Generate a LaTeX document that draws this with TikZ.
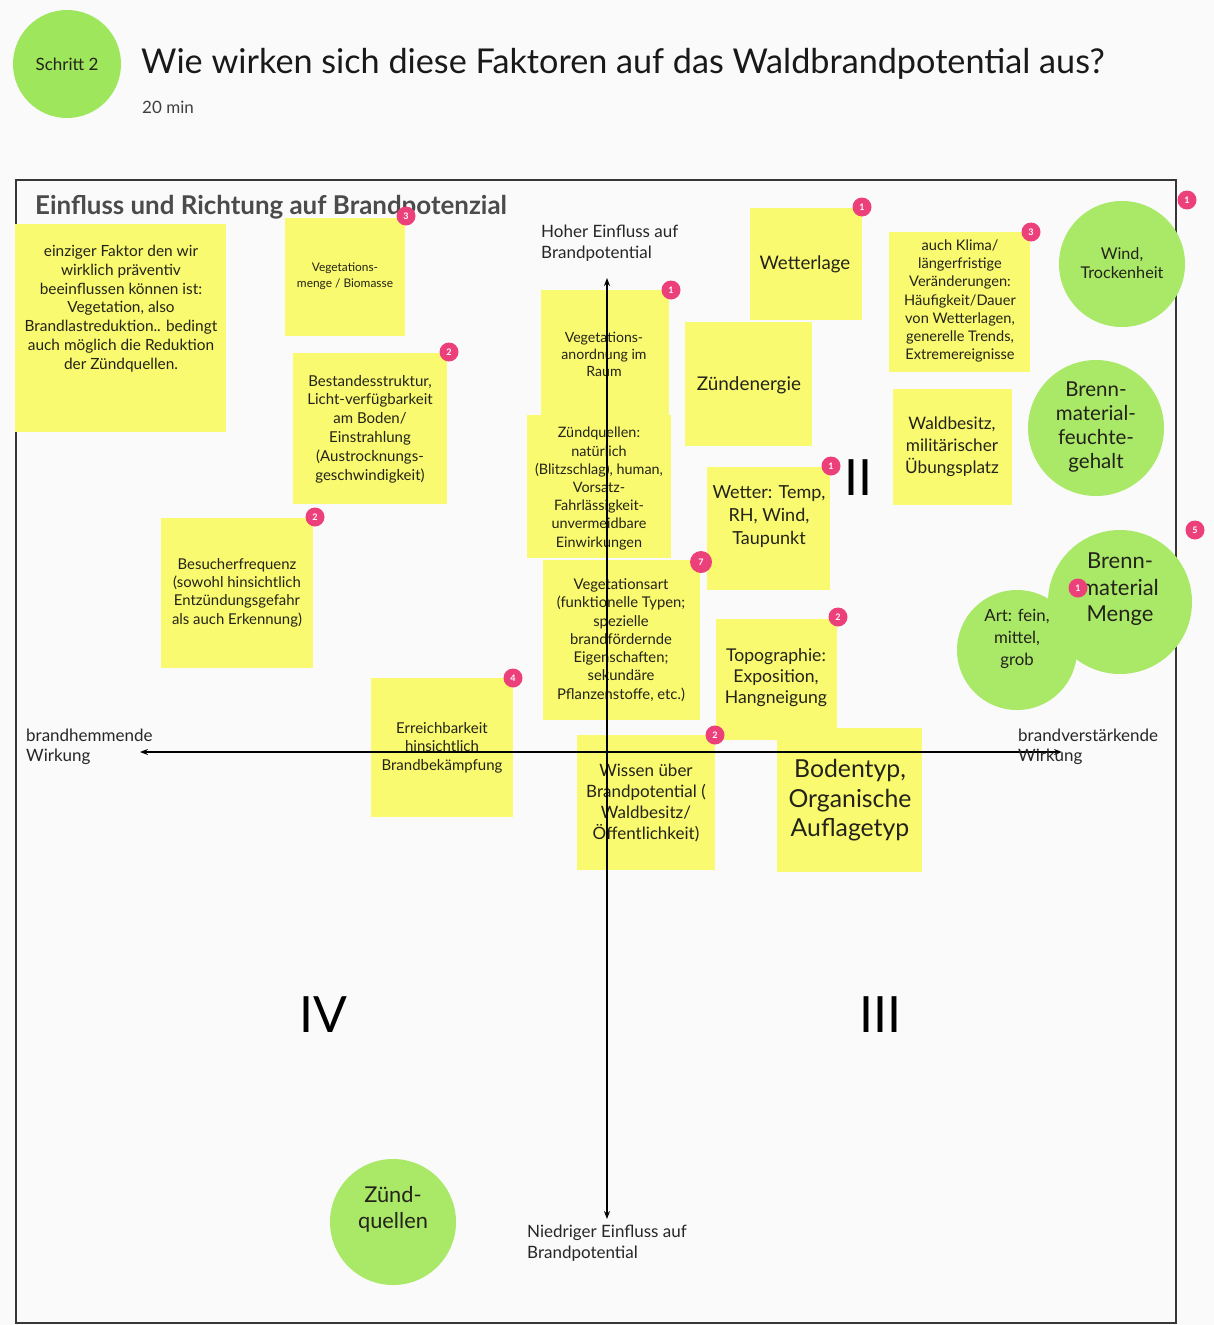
\documentclass[tikz,border=0pt]{standalone}
\usepackage{fontspec}
\setmainfont{Lato}
\usetikzlibrary{arrows.meta}
\definecolor{bg}{RGB}{250,250,250}
\definecolor{sticky}{RGB}{250,250,112}
\definecolor{leaf}{RGB}{170,232,104}
\definecolor{leafhead}{RGB}{158,230,92}
\definecolor{badgepink}{RGB}{236,64,122}
\definecolor{ink}{RGB}{35,35,25}
\definecolor{framegray}{RGB}{55,55,55}
\definecolor{heading}{RGB}{75,75,75}
\newcommand\fs[2]{\fontsize{#1}{#2}\selectfont}

\begin{document}
\begin{tikzpicture}[x=1pt,y=-1pt,
  note/.style={fill=sticky, inner sep=0pt, outer sep=0pt, anchor=north west},
  ntext/.style={text=ink, align=center, inner sep=0pt},
  blob/.style={circle, fill=leaf, inner sep=0pt, outer sep=0pt},
  badge/.style={circle, fill=badgepink, text=white, inner sep=0pt, minimum size=19pt, font=\fs{9}{9}\bfseries},
  axis/.style={line width=1.4pt, draw=black, {Stealth[length=8pt,width=6pt]}-{Stealth[length=8pt,width=6pt]}},
  axlabel/.style={anchor=west, align=left, inner sep=0pt, text=black!85, font=\fs{17}{21}},
  quad/.style={inner sep=0pt, font=\fs{50}{50}, text=black}
]
% page
\useasboundingbox (0,0) rectangle (1214,1325);
\fill[bg] (0,0) rectangle (1214,1325);

% header
\node[circle, fill=leafhead, minimum size=108pt, inner sep=0pt, text=ink, font=\fs{17}{17}] (step) at (67,64) {Schritt 2};
\node[anchor=west, inner sep=0pt, font=\fs{34.2}{34.2}, text=black!90] (title) at (141,64) {Wie wirken sich diese Faktoren auf das Waldbrandpotential aus?};
\node[anchor=west, inner sep=0pt, font=\fs{17}{17}, text=black!75] (dur) at (142,107) {20 min};

% board
\node[draw=framegray, line width=2pt, anchor=north west, minimum width=1160pt, minimum height=1143pt, inner sep=0pt] (board) at (15,179) {};
\node[anchor=west, inner sep=0pt, font=\fs{25.9}{25.9}\bfseries, text=heading] (boardtitle) at (35,207) {Einfluss und Richtung auf Brandpotenzial};

% sticky notes
\node[note, minimum width=211pt, minimum height=208pt] (n1) at (15,224) {};
\node[ntext, font=\fs{15.4}{18.8}] (n1t) at (121,308.5) {einziger Faktor den wir\\wirklich präventiv\\beeinflussen können ist:\\Vegetation, also\\Brandlastreduktion.. bedingt\\auch möglich die Reduktion\\der Zündquellen.};

\node[note, minimum width=120pt, minimum height=118pt] (n2) at (285,218) {};
\node[ntext, font=\fs{11.9}{16}] (n2t) at (345,276) {Vegetations-\\menge / Biomasse};

\node[note, minimum width=154pt, minimum height=151pt] (n3) at (293,353) {};
\node[ntext, font=\fs{15}{18.8}] (n3t) at (370,429) {Bestandesstruktur,\\Licht-verfügbarkeit\\am Boden/\\Einstrahlung\\(Austrocknungs-\\geschwindigkeit)};

\node[note, minimum width=152pt, minimum height=150pt] (n4) at (161,518) {};
\node[ntext, font=\fs{14.9}{18.3}] (n4t) at (237,592.5) {Besucherfrequenz\\(sowohl hinsichtlich\\Entzündungsgefahr\\als auch Erkennung)};

\node[note, minimum width=128pt, minimum height=130pt] (n5) at (541,290) {};
\node[ntext, font=\fs{14.1}{17}] (n5t) at (604,354) {Vegetations-\\anordnung im\\Raum};

\node[note, minimum width=144pt, minimum height=143pt] (n6) at (527,415) {};
\node[ntext, font=\fs{14.4}{18.2}] (n6t) at (599,488.5) {Zündquellen:\\natürlich\\(Blitzschlag), human,\\Vorsatz-\\Fahrlässigkeit-\\unvermeidbare\\Einwirkungen};

\node[note, minimum width=157pt, minimum height=160pt] (n7) at (543,560) {};
\node[ntext, font=\fs{14.8}{18.3}] (n7t) at (621,640) {Vegetationsart\\(funktionelle Typen;\\spezielle\\brandfördernde\\Eigenschaften;\\sekundäre\\Pflanzenstoffe, etc.)};

\node[note, minimum width=112pt, minimum height=112pt] (n8) at (750,208) {};
\node[ntext, font=\fs{18.7}{18.7}] (n8t) at (805,264) {Wetterlage};

\node[note, minimum width=127pt, minimum height=124pt] (n9) at (685,322) {};
\node[ntext, font=\fs{18.9}{18.9}] (n9t) at (749,385) {Zündenergie};

\node[note, minimum width=141pt, minimum height=140pt] (n10) at (889,232) {};
\node[ntext, font=\fs{14.6}{18.3}] (n10t) at (960,301) {auch Klima/\\längerfristige\\Veränderungen:\\Häufigkeit/Dauer\\von Wetterlagen,\\generelle Trends,\\Extremereignisse};

\node[note, minimum width=119pt, minimum height=116pt] (n11) at (893,389) {};
\node[ntext, font=\fs{17.2}{22}] (n11t) at (952,447) {Waldbesitz,\\militärischer\\Übungsplatz};

\node[note, minimum width=123pt, minimum height=123pt] (n12) at (707,467) {};
\node[ntext, font=\fs{18}{23}] (n12t) at (769,517) {Wetter: Temp,\\RH, Wind,\\Taupunkt};

\node[note, minimum width=121pt, minimum height=121pt] (n13) at (716,619) {};
\node[ntext, font=\fs{17.6}{21}] (n13t) at (776,678) {Topographie:\\Exposition,\\Hangneigung};

\node[note, minimum width=142pt, minimum height=139pt] (n14) at (371,678) {};
\node[ntext, font=\fs{15}{18.5}] (n14t) at (442,747.5) {Erreichbarkeit\\hinsichtlich\\Brandbekämpfung};

\node[note, minimum width=138pt, minimum height=135pt] (n15) at (577,735) {};
\node[ntext, font=\fs{17}{21}] (n15t) at (646,802.5) {Wissen über\\Brandpotential (\\Waldbesitz/\\Öffentlichkeit)};

\node[note, minimum width=145pt, minimum height=144pt] (n16) at (777,728) {};
\node[ntext, font=\fs{24.8}{29.5}] (n16t) at (850,800.5) {Bodentyp,\\Organische\\Auflagetyp};

% axes
\coordinate (ytop) at (607,278);
\coordinate (ybot) at (607,1219);
\coordinate (xleft) at (140,752);
\coordinate (xright) at (1062,752);
\draw[axis] (ybot) -- (ytop);
\draw[axis] (xleft) -- (xright);

\node[axlabel] (hi) at (541,243.5) {Hoher Einfluss auf\\Brandpotential};
\node[axlabel] (lo) at (527,1243.5) {Niedriger Einfluss auf\\Brandpotential};
\node[axlabel, font=\fs{17}{20}] (neg) at (26,747) {brandhemmende\\Wirkung};
\node[axlabel, font=\fs{17}{20}] (pos) at (1018,747) {brandverstärkende\\Wirkung};

% quadrant numbers
\node[quad] (q2) at (858,478) {II};
\node[quad] (q3) at (880,1015) {III};
\node[quad] (q4) at (323,1015) {IV};

% green circles
\node[blob, minimum size=126pt] (wind) at (1122,264) {};
\node[ntext, font=\fs{16.2}{19}] (windt) at (1122,263.5) {Wind,\\Trockenheit};
\node[blob, minimum size=136pt] (moist) at (1096,428) {};
\node[ntext, font=\fs{20.5}{24}] (moistt) at (1096,427) {Brenn-\\material-\\feuchte-\\gehalt};
\node[blob, minimum size=120pt] (kind) at (1017,650) {};
\node[blob, minimum size=144pt] (amount) at (1120,602) {};
\node[ntext, font=\fs{16.8}{22}] (kindt) at (1017,639) {Art: fein,\\mittel,\\grob};
\node[ntext, font=\fs{22}{26.5}] (amountt) at (1120,589.5) {Brenn-\\material\\Menge};
\node[blob, minimum size=126pt] (ign) at (393,1222) {};
\node[ntext, font=\fs{21.8}{26}] (ignt) at (393,1209) {Zünd-\\quellen};

% vote badges
\node[badge] (b1) at (406,216) {3};
\node[badge] (b2) at (449,352) {2};
\node[badge] (b3) at (315,517) {2};
\node[badge] (b4) at (513,678) {4};
\node[badge] (b5) at (671,290) {1};
\node[badge] (b6) at (862,207) {1};
\node[badge] (b7) at (1031,232) {3};
\node[badge] (b8) at (1187,200) {1};
\node[badge] (b9) at (831,466) {1};
\node[badge, minimum size=22pt] (b10) at (701,562) {7};
\node[badge] (b11) at (838,617) {2};
\node[badge] (b12) at (715,735) {2};
\node[badge] (b13) at (1195,530) {5};
\node[badge] (b14) at (1078,588) {1};
\end{tikzpicture}
\end{document}
